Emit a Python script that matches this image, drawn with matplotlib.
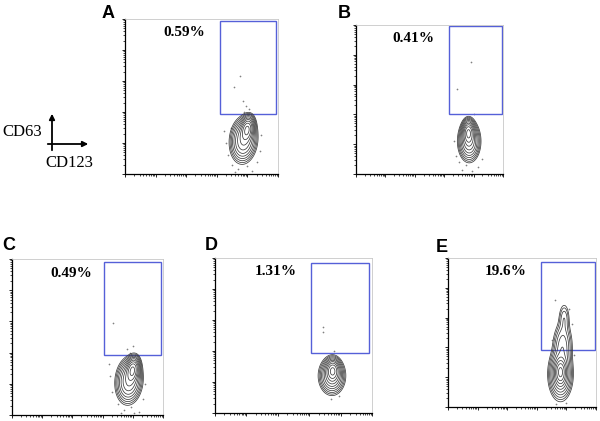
import numpy as np
import matplotlib
matplotlib.use("Agg")
import matplotlib.pyplot as plt
from matplotlib.patches import Rectangle, FancyArrowPatch

# panel labels and gated percentages
panels = ["A", "B", "C", "D", "E"]
percents = ["0.59%", "0.41%", "0.49%", "1.31%", "19.6%"]

# gate rectangles (fraction of the axis, CD123 x, CD63 y)
gate_x0 = [0.62, 0.63, 0.61, 0.61, 0.63]
gate_x1 = [0.99, 0.99, 0.99, 0.98, 0.99]
gate_y0 = [0.39, 0.40, 0.385, 0.39, 0.38]
gate_y1 = [0.99, 0.99, 0.98, 0.97, 0.97]

# cell populations: (cx, cy, sx, sy, rho, weight)
pop_A = [(0.800, 0.29, 0.022, 0.040, 0.2, 1.0), (0.775, 0.22, 0.042, 0.070, 0.1, 0.6)]
pop_B = [(0.765, 0.28, 0.020, 0.040, 0.0, 1.0), (0.770, 0.22, 0.036, 0.065, 0.0, 0.6)]
pop_C = [(0.800, 0.29, 0.022, 0.040, 0.2, 1.0), (0.775, 0.22, 0.042, 0.070, 0.1, 0.6)]
pop_D = [(0.750, 0.275, 0.022, 0.035, 0.0, 1.0), (0.745, 0.24, 0.040, 0.058, 0.0, 0.6)]
pop_E = [(0.760, 0.235, 0.020, 0.045, 0.0, 1.0), (0.760, 0.22, 0.040, 0.085, 0.0, 0.6),
         (0.775, 0.42, 0.035, 0.08, 0.0, 0.28), (0.785, 0.60, 0.022, 0.06, 0.0, 0.14)]
pops = [pop_A, pop_B, pop_C, pop_D, pop_E]

# scattered single events (x, y)
dots_A = [(0.75, 0.63), (0.71, 0.56), (0.78, 0.40), (0.79, 0.44), (0.77, 0.47), (0.81, 0.42),
          (0.66, 0.20), (0.67, 0.12), (0.70, 0.06), (0.74, 0.03), (0.80, 0.05), (0.86, 0.08),
          (0.88, 0.15), (0.72, 0.01), (0.83, 0.02), (0.69, 0.30), (0.65, 0.28), (0.89, 0.25)]
dots_B = [(0.78, 0.75), (0.69, 0.57), (0.80, 0.40), (0.72, 0.03), (0.75, 0.06), (0.79, 0.02),
          (0.83, 0.05), (0.86, 0.10), (0.68, 0.12), (0.70, 0.08), (0.67, 0.22)]
dots_C = [(0.67, 0.59), (0.78, 0.40), (0.80, 0.44), (0.76, 0.42), (0.65, 0.25), (0.66, 0.15),
          (0.70, 0.07), (0.74, 0.03), (0.79, 0.05), (0.84, 0.02), (0.87, 0.10), (0.88, 0.20),
          (0.72, 0.01), (0.81, 0.01), (0.64, 0.33)]
dots_D = [(0.69, 0.555), (0.69, 0.52), (0.76, 0.40), (0.74, 0.09), (0.79, 0.11)]
dots_E = [(0.72, 0.72), (0.84, 0.56), (0.82, 0.66), (0.70, 0.45), (0.85, 0.35), (0.73, 0.02),
          (0.80, 0.03)]
dots = [dots_A, dots_B, dots_C, dots_D, dots_E]

W, H = 600, 421
# axes boxes in pixels: left, top, right, bottom
boxes = [(125, 19, 278, 174), (356, 25, 503, 174), (12, 259, 163, 415),
         (215, 258, 372, 413), (448, 258, 596, 407)]
letter_xy = [(108, 13), (344, 13), (9, 246), (211, 246), (442, 248)]

fig = plt.figure(figsize=(6, 4.21), dpi=100)

# log-style ticks, 5 decades
decades = 5
minor = []
for d in range(decades):
    for k in range(2, 10):
        minor.append((d + np.log10(k)) / decades)
major = [d / decades for d in range(decades + 1)]

gx, gy = np.meshgrid(np.linspace(0, 1, 400), np.linspace(0, 1, 400))
fracs = np.geomspace(0.035, 0.85, 10)

for i in range(5):
    l, t, r, b = boxes[i]
    ax = fig.add_axes([l / W, 1 - b / H, (r - l) / W, (b - t) / H])
    ax.set_xlim(0, 1)
    ax.set_ylim(0, 1)

    z = np.zeros_like(gx)
    for cx, cy, sx, sy, rho, w in pops[i]:
        u = (gx - cx) / sx
        v = (gy - cy) / sy
        z += w * np.exp(-(u * u - 2 * rho * u * v + v * v) / (2 * (1 - rho ** 2)))
    ax.contour(gx, gy, z, levels=z.max() * fracs, colors="#3c3c3c", linewidths=0.55)

    dx = [p[0] for p in dots[i]]
    dy = [p[1] for p in dots[i]]
    ax.scatter(dx, dy, s=1.5, color="#808080", linewidths=0)

    ax.add_patch(Rectangle((gate_x0[i], gate_y0[i]), gate_x1[i] - gate_x0[i],
                           gate_y1[i] - gate_y0[i], fill=False, edgecolor="#5560d8", lw=1.0))

    ax.text(0.39, 0.91, percents[i], transform=ax.transAxes, ha="center", va="center",
            family="Liberation Serif", fontweight="bold", fontsize=11)

    ax.set_xticks(major)
    ax.set_yticks(major)
    ax.set_xticks(minor, minor=True)
    ax.set_yticks(minor, minor=True)
    ax.set_xticklabels([])
    ax.set_yticklabels([])
    ax.tick_params(which="major", length=2.5, width=0.6, direction="out")
    ax.tick_params(which="minor", length=1.5, width=0.5, direction="out")
    for s in ["top", "right"]:
        ax.spines[s].set_color("#c8c8c8")
        ax.spines[s].set_linewidth(0.6)
    for s in ["left", "bottom"]:
        ax.spines[s].set_linewidth(0.9)

    fig.text(letter_xy[i][0] / W, 1 - letter_xy[i][1] / H, panels[i], ha="center", va="center",
             family="Liberation Sans", fontweight="bold", fontsize=13)

# axis orientation key
fig.text(22 / W, 1 - 132 / H, "CD63", family="Liberation Serif", fontsize=12, ha="center", va="center")
fig.text(69 / W, 1 - 163 / H, "CD123", family="Liberation Serif", fontsize=12, ha="center", va="center")
fig.add_artist(FancyArrowPatch((52 / W, 1 - 153 / H), (52 / W, 1 - 111 / H),
               transform=fig.transFigure, arrowstyle="-|>", mutation_scale=8, lw=1.3, color="black"))
fig.add_artist(FancyArrowPatch((45 / W, 1 - 144 / H), (91 / W, 1 - 144 / H),
               transform=fig.transFigure, arrowstyle="-|>", mutation_scale=8, lw=1.3, color="black"))

fig.savefig("out.png", dpi=100)
